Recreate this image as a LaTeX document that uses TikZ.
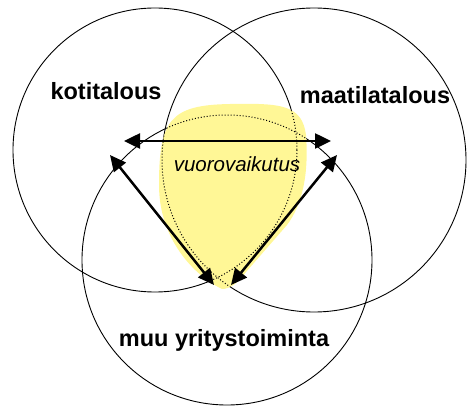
\documentclass[tikz,border=0pt]{standalone}
\usepackage{fontspec}
\setmainfont{Liberation Sans}
\usetikzlibrary{arrows.meta}
\definecolor{blob}{RGB}{255,247,150}
\begin{document}
\begin{tikzpicture}[x=1pt,y=-1pt,
  ring/.style={draw=black,line width=0.9pt},
  ringdot/.style={draw=black,line width=1pt,dash pattern=on 1pt off 2pt},
  lab/.style={font=\fontsize{23.5}{26}\selectfont\bfseries,inner sep=0pt},
  arr/.style={line width=2.5pt,{Triangle[length=16pt,width=15pt]}-{Triangle[length=16pt,width=15pt]}}]
\useasboundingbox (0,0) rectangle (467,409);
\def\blobpath{(222,289) .. controls (195,276) and (159,240) .. (159,185) .. controls (159,120) and (170,105) .. (230,104) .. controls (282,103) and (302,105) .. (306,135) .. controls (309,175) and (302,205) .. (287,225) -- (246,272) .. controls (238,283) and (230,289) .. (222,289) -- cycle}
% circles
\draw[ring] (155,150) circle[radius=142];
\draw[ring] (314,160) circle[radius=152];
\draw[ring] (227,260) circle[radius=145];
% yellow region
\fill[blob] \blobpath;
\begin{scope}
\clip \blobpath;
\draw[ringdot] (155,150) circle[radius=142];
\draw[ringdot] (314,160) circle[radius=152];
\draw[ringdot] (227,260) circle[radius=145];
\end{scope}
% labels
\node[lab] (koti) at (106,91) {kotitalous};
\node[lab] (maati) at (375,95) {maatilatalous};
\node[lab] (muu) at (224,340) {muu yritystoiminta};
\node[font=\fontsize{20.5}{24}\selectfont\itshape,inner sep=0pt] (vuoro) at (237,164) {vuorovaikutus};
% arrow endpoints
\coordinate (hl) at (124,141);
\coordinate (hr) at (331,141);
\coordinate (ll) at (110,155);
\coordinate (lb) at (214,285);
\coordinate (rb) at (231,285);
\coordinate (rt) at (337,155);
\draw[arr] (hl) -- (hr);
\draw[arr] (ll) -- (lb);
\draw[arr] (rb) -- (rt);
\end{tikzpicture}
\end{document}
